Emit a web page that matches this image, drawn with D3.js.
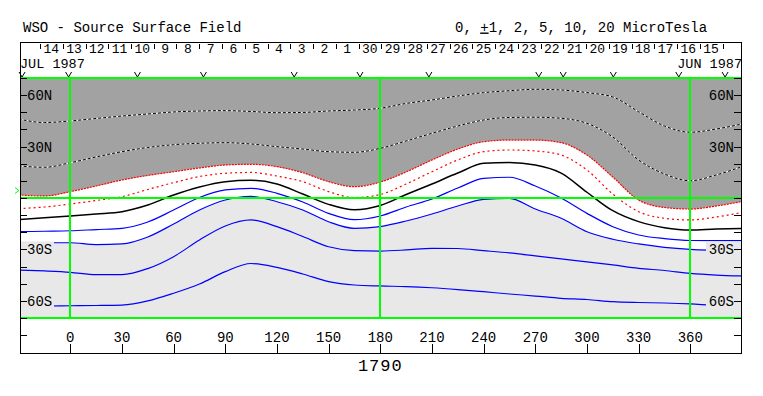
<!DOCTYPE html>
<html>
<head>
<meta charset="utf-8">
<script src="https://cdn.jsdelivr.net/npm/d3@7"></script>
<style>
  body { margin: 0; background: #fff; }
  text { font-family: "Liberation Mono", "DejaVu Sans Mono", monospace; fill: #000; }
</style>
</head>
<body>
<script>
const width = 763;
const height = 396;

// Carrington longitude grid shared by every contour line
const lonGrid = d3.range(-30, 391, 15);

// sine latitude of each contour, sampled on lonGrid (levels in microtesla)
const pos10 = [0.658, 0.629, 0.642, 0.663, 0.683, 0.700, 0.717, 0.725, 0.728, 0.721, 0.711, 0.713, 0.725, 0.733, 0.748,
  0.788, 0.817, 0.850, 0.878, 0.894, 0.906, 0.900, 0.878, 0.842, 0.719, 0.600, 0.548, 0.575, 0.617];
const pos5 = [0.267, 0.256, 0.294, 0.342, 0.386, 0.421, 0.444, 0.456, 0.461, 0.450, 0.428, 0.408, 0.386, 0.381, 0.414,
  0.475, 0.539, 0.600, 0.650, 0.671, 0.673, 0.664, 0.622, 0.508, 0.317, 0.200, 0.144, 0.192, 0.262];
const pos2 = [0.025, 0.017, 0.053, 0.100, 0.150, 0.188, 0.219, 0.250, 0.275, 0.281, 0.261, 0.211, 0.136, 0.094, 0.133,
  0.217, 0.317, 0.408, 0.469, 0.483, 0.483, 0.461, 0.358, 0.175, -0.017, -0.079, -0.092, -0.067, -0.029];
const pos1 = [-0.088, -0.075, -0.050, -0.021, 0.011, 0.071, 0.128, 0.179, 0.206, 0.213, 0.183, 0.136, 0.053, 0.004, 0.029,
  0.117, 0.219, 0.317, 0.386, 0.400, 0.392, 0.358, 0.233, 0.033, -0.114, -0.169, -0.183, -0.158, -0.121];
const zero = [-0.179, -0.165, -0.150, -0.133, -0.114, -0.058, 0.025, 0.092, 0.136, 0.148, 0.117, 0.033, -0.053, -0.098, -0.063,
  0.029, 0.117, 0.208, 0.289, 0.296, 0.275, 0.208, 0.048, -0.106, -0.197, -0.247, -0.267, -0.258, -0.253];
const neg1 = [-0.281, -0.277, -0.273, -0.263, -0.253, -0.200, -0.100, 0.004, 0.067, 0.081, 0.039, -0.033, -0.128, -0.181, -0.150,
  -0.075, -0.008, 0.083, 0.163, 0.173, 0.100, 0.000, -0.128, -0.239, -0.308, -0.338, -0.354, -0.356, -0.356];
const neg2 = [-0.373, -0.373, -0.373, -0.388, -0.383, -0.325, -0.217, -0.100, -0.017, 0.013, -0.031, -0.100, -0.198, -0.253, -0.238,
  -0.192, -0.133, -0.067, -0.011, -0.003, -0.092, -0.169, -0.281, -0.344, -0.383, -0.411, -0.428, -0.436, -0.442];
const neg5 = [-0.600, -0.608, -0.619, -0.638, -0.638, -0.588, -0.489, -0.350, -0.233, -0.183, -0.239, -0.321, -0.406, -0.438, -0.442,
  -0.433, -0.419, -0.421, -0.439, -0.458, -0.483, -0.508, -0.533, -0.558, -0.586, -0.604, -0.628, -0.642, -0.650];
const neg10 = [-0.900, -0.900, -0.898, -0.896, -0.892, -0.858, -0.794, -0.717, -0.614, -0.546, -0.578, -0.633, -0.697, -0.725, -0.733,
  -0.738, -0.748, -0.763, -0.781, -0.800, -0.817, -0.836, -0.846, -0.864, -0.871, -0.875, -0.883, -0.896, -0.900];

// axis ticks and labels
const lonTicks = d3.range(0, 361, 30);
const latTicks = d3.range(-8, 8).map(k => k / 7);
const latLabels = ["60N", "30N", "30S", "60S"];
const latLabelVals = [6 / 7, 3 / 7, -3 / 7, -6 / 7];
const obsLon = [-28, -1, 39, 77.3, 130, 168.2, 208.2, 272, 286.2, 315.3, 353.3, 380.2];
const earthLat = 0.0625;
const rotation = "1790";
const startDay = new Date(Date.UTC(1987, 5, 15));
const endDay = new Date(Date.UTC(1987, 6, 15));

const svg = d3.select("body")
  .append("svg")
  .attr("width", width)
  .attr("height", height)
  .style("display", "block");

const plot = { left: 20, right: 741, top: 78, bottom: 318 };

const x = d3.scaleLinear().domain([0, 360]).range([70.3, 690.3]);
const y = d3.scaleLinear().domain([-1, 1]).range([plot.bottom, plot.top]);
const day = d3.scaleUtc().domain([endDay, startDay]).range([40, 722.5]);

svg.append("defs").append("clipPath").attr("id", "plotClip")
  .append("rect")
  .attr("x", plot.left).attr("y", plot.top)
  .attr("width", plot.right - plot.left).attr("height", plot.bottom - plot.top);

const inner = svg.append("g").attr("clip-path", "url(#plotClip)");

// shaded polarity regions
inner.append("path")
  .datum(pos2)
  .attr("fill", "#a2a2a2")
  .attr("d", d3.area()
    .x((d, i) => x(lonGrid[i]))
    .y0(y(1))
    .y1(d => y(d))
    .curve(d3.curveMonotoneX));

inner.append("path")
  .datum(neg2)
  .attr("fill", "#e8e8e8")
  .attr("d", d3.area()
    .x((d, i) => x(lonGrid[i]))
    .y0(y(-1))
    .y1(d => y(d))
    .curve(d3.curveMonotoneX));

const line = d3.line()
  .x((d, i) => x(lonGrid[i]))
  .y(d => y(d))
  .curve(d3.curveMonotoneX);

const contours = [
  { vals: pos10, color: "#000", dash: "3,2", under: "#fff", w: 1 },
  { vals: pos5, color: "#000", dash: "3,2", under: "#fff", w: 1 },
  { vals: pos2, color: "#ff0000", dash: "2,1", w: 1.2 },
  { vals: pos1, color: "#ff0000", dash: "2,3", w: 1.2 },
  { vals: zero, color: "#000", w: 1.5 },
  { vals: neg1, color: "#0000ff", w: 1.2 },
  { vals: neg2, color: "#0000ff", w: 1.2 },
  { vals: neg5, color: "#0000ff", w: 1.2 },
  { vals: neg10, color: "#0000ff", w: 1.2 }
];

contours.forEach(c => {
  if (c.under) {
    inner.append("path")
      .datum(c.vals)
      .attr("fill", "none")
      .attr("stroke", c.under)
      .attr("stroke-width", c.w)
      .attr("d", line);
  }
  inner.append("path")
    .datum(c.vals)
    .attr("fill", "none")
    .attr("stroke", c.color)
    .attr("stroke-width", c.w)
    .attr("stroke-dasharray", c.dash || null)
    .attr("d", line);
});

// latitude labels on both sides, with a patch of background behind them
latLabels.forEach((lab, i) => {
  const v = latLabelVals[i];
  const bg = v > 0 ? "#a2a2a2" : "#e8e8e8";
  svg.append("rect")
    .attr("x", plot.left + 1).attr("y", y(v) - 8)
    .attr("width", 33).attr("height", 15)
    .attr("fill", bg);
  svg.append("rect")
    .attr("x", plot.right - 35).attr("y", y(v) - 8)
    .attr("width", 35).attr("height", 15)
    .attr("fill", bg);
  svg.append("text")
    .attr("x", plot.left + 7).attr("y", y(v) + 5)
    .attr("font-size", 14)
    .text(lab);
  svg.append("text")
    .attr("x", plot.right - 7).attr("y", y(v) + 5)
    .attr("text-anchor", "end")
    .attr("font-size", 14)
    .text(lab);
});

// green reference lines
const green = svg.append("g")
  .attr("stroke", "#00ff00")
  .attr("stroke-width", 2)
  .attr("shape-rendering", "crispEdges");

[-1, 0, 1].forEach(v => {
  green.append("line")
    .attr("x1", plot.left).attr("x2", plot.right)
    .attr("y1", y(v)).attr("y2", y(v));
});
[0, 180, 360].forEach(v => {
  green.append("line")
    .attr("x1", x(v)).attr("x2", x(v))
    .attr("y1", plot.top).attr("y2", plot.bottom);
});

// earth latitude marker
svg.append("path")
  .attr("fill", "none")
  .attr("stroke", "#00ff00")
  .attr("d", `M15,${y(earthLat) - 3}L19,${y(earthLat)}L15,${y(earthLat) + 3}`);

// frame
const frame = svg.append("g")
  .attr("stroke", "#000")
  .attr("stroke-width", 1)
  .attr("shape-rendering", "crispEdges");

frame.append("rect")
  .attr("x", plot.left + 0.5).attr("y", 42.5)
  .attr("width", plot.right - plot.left).attr("height", 353 - 42)
  .attr("fill", "none");

// latitude ticks
latTicks.forEach(v => {
  frame.append("line")
    .attr("x1", plot.left).attr("x2", plot.left + 7)
    .attr("y1", Math.round(y(v)) + 0.5).attr("y2", Math.round(y(v)) + 0.5);
  frame.append("line")
    .attr("x1", plot.right - 7).attr("x2", plot.right)
    .attr("y1", Math.round(y(v)) + 0.5).attr("y2", Math.round(y(v)) + 0.5);
});

// longitude axis
lonTicks.forEach(v => {
  frame.append("line")
    .attr("x1", Math.round(x(v)) + 0.5).attr("x2", Math.round(x(v)) + 0.5)
    .attr("y1", 344).attr("y2", 353);
  svg.append("text")
    .attr("x", x(v)).attr("y", 342)
    .attr("text-anchor", "middle")
    .attr("font-size", 14)
    .text(v);
});

svg.append("text")
  .attr("x", x(180)).attr("y", 371)
  .attr("text-anchor", "middle")
  .attr("font-size", 17)
  .attr("letter-spacing", 1)
  .text(rotation);

// day row along the top
d3.utcDay.range(startDay, d3.utcDay.offset(endDay, 1)).forEach(d => {
  frame.append("line")
    .attr("x1", Math.round(day(d)) + 0.5).attr("x2", Math.round(day(d)) + 0.5)
    .attr("y1", 44).attr("y2", 49);
});
d3.utcDay.range(startDay, endDay).forEach(d => {
  svg.append("text")
    .attr("x", day(d3.utcHour.offset(d, 12)))
    .attr("y", 53)
    .attr("text-anchor", "middle")
    .attr("font-size", 13)
    .text(d.getUTCDate());
});

svg.append("text")
  .attr("x", plot.left).attr("y", 68)
  .attr("font-size", 13.5)
  .text("JUL 1987");
svg.append("text")
  .attr("x", plot.right + 1).attr("y", 68)
  .attr("text-anchor", "end")
  .attr("font-size", 13.5)
  .text("JUN 1987");

// observation markers drawn as small v shapes
svg.append("g")
  .attr("fill", "none")
  .attr("stroke", "#000")
  .selectAll("path")
  .data(obsLon)
  .join("path")
  .attr("d", v => `M${x(v) - 3},72L${x(v)},77L${x(v) + 3},72`);

// titles
svg.append("text")
  .attr("x", 23).attr("y", 31.5)
  .attr("font-size", 14)
  .text("WSO - Source Surface Field");

const unit = svg.append("text")
  .attr("x", 455).attr("y", 31.5)
  .attr("font-size", 14);
unit.append("tspan").text("0, ");
unit.append("tspan").attr("text-decoration", "underline").text("+");
unit.append("tspan").text("1, 2, 5, 10, 20 MicroTesla");
</script>
</body>
</html>
